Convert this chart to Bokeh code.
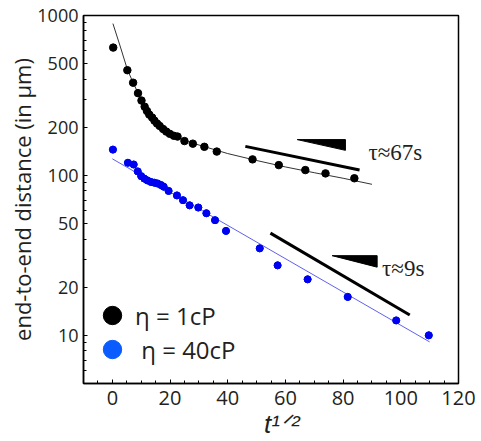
import math
from bokeh.plotting import figure
from bokeh.models import (Range1d, Label, Legend, LegendItem,
                          SingleIntervalTicker, FixedTicker, PrintfTickFormatter)
from bokeh.embed import file_html
from bokeh.resources import INLINE

# ---------------- data ----------------
t_1cP = [0.3, 5.2, 7.2, 8.9, 10.1, 11.2, 12.0, 12.8, 13.8, 14.6, 15.5, 16.4, 17.6,
         18.7, 19.9, 21.3, 22.6, 25.0, 27.9, 31.9, 36.2, 48.6, 57.7, 66.9, 73.9, 83.9]
d_1cP = [630, 455, 380, 327, 294, 269, 253, 240, 230, 220, 211, 204, 195,
         188, 182, 177, 175, 164, 158, 151, 141, 126, 116, 108, 103, 96]

t_40cP = [0.2, 5.4, 7.4, 8.8, 10.0, 11.1, 12.2, 13.4, 14.6, 15.7, 16.9, 17.8, 19.5,
          22.4, 24.5, 26.8, 29.8, 32.6, 35.6, 39.4, 51.1, 57.3, 67.7, 81.6, 98.4, 109.7]
d_40cP = [145, 120, 117, 106, 99, 95.5, 93, 91, 90, 89, 87, 85, 80,
          75, 70, 65, 63, 58, 52.5, 45, 35, 27.4, 22.4, 17.4, 12.4, 10]

fit_1cP_t = [0.2, 2.8, 5.2, 7.2, 9, 12, 16, 20, 25, 30, 40, 50, 60, 70, 80, 90]
fit_1cP_d = [890, 635, 460, 380, 325, 255, 207, 182, 165, 155, 137, 124, 113, 104, 96, 88]

fit_40cP_t = [0, 110]
fit_40cP_d = [127, 9.1]

slope_67_t = [46.1, 85.7]
slope_67_d = [152, 108]
slope_9_t = [54.8, 103.1]
slope_9_d = [43.6, 13.4]

wedge_67_t = [64.1, 80.8, 80.8]
wedge_67_d = [167.5, 167.5, 143.5]
wedge_9_t = [76.2, 91.8, 91.8]
wedge_9_d = [31.5, 31.5, 26.7]

tau_labels = ["τ≈67s", "τ≈9s"]
tau_t = [88.8, 93.5]
tau_d = [140, 26.3]

legend_labels = ["η = 1cP", " η = 40cP"]

x_range = (-10, 120)
y_range = (5, 1000)
y_ticks = [10, 20, 50, 100, 200, 500, 1000]
y_minor = [6, 7, 8, 9, 30, 40, 60, 70, 80, 90, 300, 400, 600, 700, 800, 900]

x_title = "\u00a0\u00a0\u00a0t¹ᐟ²"
y_title = "end-to-end distance (in µm)"

# ---------------- figure ----------------
p = figure(width=480, height=441, y_axis_type="log",
           x_range=Range1d(*x_range), y_range=Range1d(*y_range),
           output_backend="svg", toolbar_location=None,
           min_border_left=83, min_border_right=22, min_border_top=15, min_border_bottom=58)
p.xgrid.visible = False
p.ygrid.visible = False
p.outline_line_color = "black"
p.outline_line_width = 1.5
p.background_fill_color = "white"
p.border_fill_color = "white"

SANS = "Open Sans"
INK = "#231f20"

p.xaxis.ticker = SingleIntervalTicker(interval=20, num_minor_ticks=4)
p.yaxis.ticker = FixedTicker(ticks=y_ticks, minor_ticks=y_minor)
p.yaxis.formatter = PrintfTickFormatter(format="%d")
for ax in (p.xaxis[0], p.yaxis[0]):
    ax.axis_line_color = "black"
    ax.axis_line_width = 1.5
    ax.major_tick_in = 4
    ax.major_tick_out = 0
    ax.minor_tick_in = 3
    ax.minor_tick_out = 0
    ax.major_tick_line_color = "black"
    ax.minor_tick_line_color = "black"
    ax.major_label_text_font = SANS
    ax.major_label_text_color = INK
    ax.axis_label_text_color = INK
p.xaxis.major_label_text_font_size = "20px"
p.xaxis.major_label_standoff = 7
p.yaxis.major_label_text_font_size = "18px"
p.yaxis.major_label_standoff = 5

p.yaxis.axis_label = y_title
p.yaxis.axis_label_text_font = SANS
p.yaxis.axis_label_text_font_style = "normal"
p.yaxis.axis_label_text_font_size = "22px"
p.yaxis.axis_label_standoff = -3

p.xaxis.axis_label = x_title
p.xaxis.axis_label_text_font = "Liberation Sans"
p.xaxis.axis_label_text_font_style = "italic"
p.xaxis.axis_label_text_font_size = "26px"
p.xaxis.axis_label_standoff = 1

# legend-colour copy of the blue series, drawn underneath the data markers
r_leg_blue = p.scatter(t_40cP, d_40cP, size=7, fill_color="#0a5cff", line_color="#0a5cff")

# fit lines
p.line(fit_1cP_t, fit_1cP_d, line_color="#333333", line_width=1)
p.line(fit_40cP_t, fit_40cP_d, line_color="#6060f0", line_width=1)

# data points
r_black = p.scatter(t_1cP, d_1cP, size=7.5, fill_color="black", line_color="black")
r_blue = p.scatter(t_40cP, d_40cP, size=7, fill_color="#0000f0", line_color="#0000f0")

# slope indicator bars and wedges
p.line(slope_67_t, slope_67_d, line_color="black", line_width=3)
p.line(slope_9_t, slope_9_d, line_color="black", line_width=3)
p.patch(wedge_67_t, wedge_67_d, fill_color="black", line_color="black", line_width=1)
p.patch(wedge_9_t, wedge_9_d, fill_color="black", line_color="black", line_width=1)

for txt, tx, ty in zip(tau_labels, tau_t, tau_d):
    p.add_layout(Label(x=tx, y=ty, text=txt, text_font="Liberation Serif",
                       text_font_size="23px", text_color=INK,
                       text_align="left", text_baseline="alphabetic"))

# legend: two one-item legends so the symbols can be large and close together
def make_legend(label, renderer, loc):
    return Legend(items=[LegendItem(label=label, renderers=[renderer])],
                  location=loc, glyph_width=46, glyph_height=46, spacing=0,
                  padding=0, margin=0, label_standoff=0,
                  border_line_alpha=0, background_fill_alpha=0,
                  label_text_font=SANS, label_text_font_size="24px",
                  label_text_color=INK)

p.add_layout(make_legend(legend_labels[0], r_black, (6, 45)))
p.add_layout(make_legend(legend_labels[1], r_leg_blue, (6, 11)))

open("out.html", "w").write(file_html(p, INLINE))
